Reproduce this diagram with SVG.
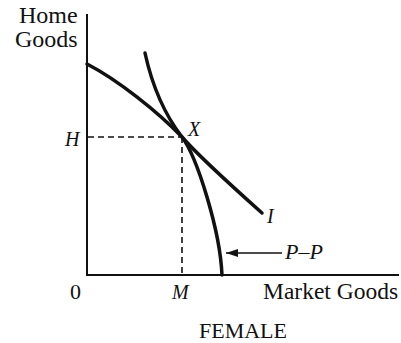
<svg xmlns="http://www.w3.org/2000/svg" width="401" height="343" viewBox="0 0 401 343">
<defs>
<style>
.t{font-family:"Liberation Serif","Times New Roman",serif;font-size:22px;fill:#111}
.b{font-size:24px}
.i{font-family:"Liberation Serif","Times New Roman",serif;font-size:20px;font-style:italic;fill:#111}
.ax{stroke:#111;stroke-width:2;fill:none}
.cv{stroke:#111;stroke-width:3.5;fill:none;stroke-linecap:round}
.ds{stroke:#111;stroke-width:1.6;fill:none;stroke-dasharray:6 4}
</style>
<marker id="ah" markerWidth="12" markerHeight="8" refX="12" refY="4" orient="auto" markerUnits="userSpaceOnUse"><path d="M0,0 L12,4 L0,8 Z" fill="#111"/></marker>
</defs>
<rect width="401" height="343" fill="#fff"/>
<g id="axes">
<line class="ax" x1="87" y1="14" x2="87" y2="275"/>
<line class="ax" x1="86" y1="275" x2="399" y2="275"/>
</g>
<g id="guides">
<line class="ds" x1="88" y1="137" x2="182" y2="137"/>
<line class="ds" x1="182" y1="137" x2="182" y2="274"/>
</g>
<g id="ppf">
<path class="cv" d="M87,64 C118,80 158,112 182,137 C197,157 220,230 222,275"/>
</g>
<g id="indifference">
<path class="cv" d="M145,53 C152,85 165,115 182,137 C195,152 225,180 262,213"/>
</g>
<g id="connectors">
<line x1="282" y1="253" x2="226" y2="253" stroke="#111" stroke-width="1.6" marker-end="url(#ah)"/>
</g>
<g id="labels">
<text class="t b" x="19" y="23">Home</text>
<text class="t b" x="15" y="47">Goods</text>
<text class="i" x="65" y="146">H</text>
<text class="i" x="188" y="136">X</text>
<text class="i" x="267" y="223">I</text>
<text class="i" x="285" y="259" style="font-size:22px">P–P</text>
<text class="t" x="70" y="299">0</text>
<text class="i" x="172" y="299">M</text>
<text class="t" x="263" y="299" style="font-size:23.5px">Market Goods</text>
<text class="t" x="199" y="338">FEMALE</text>
</g>
</svg>
